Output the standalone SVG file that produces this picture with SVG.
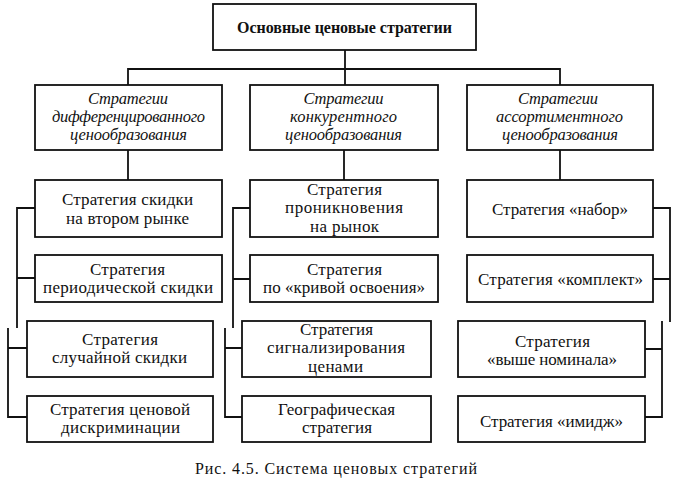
<svg xmlns="http://www.w3.org/2000/svg" width="680" height="493" viewBox="0 0 680 493">
<style>
.box{fill:#fff;stroke:#111;stroke-width:1.8}
.ln{fill:none;stroke:#111;stroke-width:1.8}
text{font-family:"Liberation Serif","Times New Roman",serif;fill:#111;text-anchor:middle}
.t{font-size:17px}
.h{font-size:16px;font-weight:bold}
.i{font-size:16.5px;font-style:italic}
.c{font-size:16px}
</style>
<rect width="680" height="493" fill="#fff"/>
<g id="connectors">
<path class="ln" d="M345 50V69M128 85V69H560V85M345 69V85"/>
<path class="ln" d="M128 150V180M344 150V180M560 150V180"/>
<path class="ln" d="M35 208H17V328M35 278H17"/>
<path class="ln" d="M8 328V417H27M8 348H27"/>
<path class="ln" d="M250 208H233V328M250 279H233"/>
<path class="ln" d="M225 328V417H242M225 348H242"/>
<path class="ln" d="M653 208H670V322M653 279H670"/>
<path class="ln" d="M662 321V417H645M662 349H645"/>
</g>
<g id="root"><rect class="box" x="213" y="4" width="263" height="46"/><text class="h" x="344.5" y="33" textLength="215">Основные ценовые стратегии</text></g>
<g id="cat1"><rect class="box" x="35" y="85" width="187" height="65"/><text class="i" x="128" y="104" textLength="80">Стратегии</text><text class="i" x="128.5" y="122" textLength="153">дифференцированного</text><text class="i" x="128.5" y="140" textLength="117">ценообразования</text></g>
<g id="cat2"><rect class="box" x="250" y="85" width="188" height="65"/><text class="i" x="343.5" y="104" textLength="80">Стратегии</text><text class="i" x="343.5" y="122" textLength="107">конкурентного</text><text class="i" x="343.5" y="140" textLength="117">ценообразования</text></g>
<g id="cat3"><rect class="box" x="467" y="85" width="186" height="65"/><text class="i" x="558" y="104" textLength="80">Стратегии</text><text class="i" x="559.5" y="122" textLength="127">ассортиментного</text><text class="i" x="560" y="140" textLength="116">ценообразования</text></g>
<g id="l1"><rect class="box" x="35" y="180" width="187" height="57"/><text class="t" x="127.5" y="205" textLength="131">Стратегия скидки</text><text class="t" x="127.5" y="224" textLength="123">на втором рынке</text></g>
<g id="m1"><rect class="box" x="250" y="180" width="188" height="57"/><text class="t" x="344.5" y="195" textLength="75">Стратегия</text><text class="t" x="344" y="213" textLength="118">проникновения</text><text class="t" x="344.5" y="232" textLength="69">на рынок</text></g>
<g id="r1"><rect class="box" x="467" y="180" width="186" height="57"/><text class="t" x="560" y="215" textLength="136">Стратегия «набор»</text></g>
<g id="l2"><rect class="box" x="35" y="255" width="187" height="47"/><text class="t" x="127.5" y="275" textLength="75">Стратегия</text><text class="t" x="128" y="293" textLength="170">периодической скидки</text></g>
<g id="m2"><rect class="box" x="250" y="255" width="188" height="47"/><text class="t" x="344.5" y="275" textLength="75">Стратегия</text><text class="t" x="344" y="293" textLength="162">по «кривой освоения»</text></g>
<g id="r2"><rect class="box" x="467" y="255" width="186" height="47"/><text class="t" x="560.5" y="285" textLength="165">Стратегия «комплект»</text></g>
<g id="l3"><rect class="box" x="27" y="321" width="186" height="56"/><text class="t" x="120" y="345" textLength="76">Стратегия</text><text class="t" x="119.5" y="363" textLength="135">случайной скидки</text></g>
<g id="m3"><rect class="box" x="242" y="321" width="189" height="56"/><text class="t" x="336.5" y="335" textLength="73">Стратегия</text><text class="t" x="336" y="353" textLength="138">сигнализирования</text><text class="t" x="335.5" y="372" textLength="55">ценами</text></g>
<g id="r3"><rect class="box" x="458" y="321" width="187" height="56"/><text class="t" x="552.5" y="347" textLength="75">Стратегия</text><text class="t" x="552" y="365" textLength="130">«выше номинала»</text></g>
<g id="l4"><rect class="box" x="27" y="396" width="186" height="46"/><text class="t" x="120" y="415" textLength="140">Стратегия ценовой</text><text class="t" x="120.5" y="433" textLength="119">дискриминации</text></g>
<g id="m4"><rect class="box" x="242" y="396" width="189" height="46"/><text class="t" x="336.5" y="415" textLength="117">Географическая</text><text class="t" x="337" y="433" textLength="70">стратегия</text></g>
<g id="r4"><rect class="box" x="458" y="396" width="187" height="46"/><text class="t" x="551.5" y="427" textLength="143">Стратегия «имидж»</text></g>
<text class="c" x="336" y="474" textLength="282">Рис. 4.5. Система ценовых стратегий</text>
</svg>
